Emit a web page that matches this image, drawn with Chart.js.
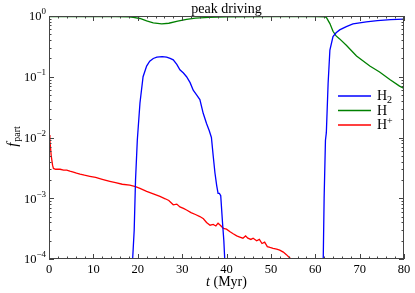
<!DOCTYPE html>
<html>
<head>
<meta charset="utf-8">
<script src="https://cdn.jsdelivr.net/npm/chart.js@4/dist/chart.umd.min.js"></script>
<style>
  html, body { margin: 0; padding: 0; background: #fff; }
  #wrap { width: 415px; height: 293px; }
</style>
</head>
<body>
<div id="wrap"><canvas id="fpart" width="415" height="293"></canvas></div>
<script>
// time axis (Myr) and fractions
const tH2 = [18.3, 18.85, 19.2, 19.5, 19.9, 20.5, 21.2, 22.0, 22.7, 23.5, 24.3, 25.5, 26.5, 27.3, 28.0, 28.8,
    29.5, 30.3, 31.0, 31.8, 32.5, 33.3, 34.0, 34.75, 35.5, 36.1, 36.6, 37.0, 37.4, 37.8, 38.1, 38.4, 38.7,
    39.1, 39.4, 39.6, 39.8,
    50,
    61.5, 61.8, 62.0, 62.3, 62.5, 62.9, 63.3, 64.0, 64.7, 65.5, 67.0, 68.5, 70.0, 71.5, 74.0, 77.0, 80.0];
const fH2 = [1e-5, 1e-4, 3e-4, 2e-3, 9e-3, 0.037, 0.1, 0.15, 0.18, 0.2, 0.21, 0.215, 0.21, 0.2, 0.19, 0.16,
    0.13, 0.115, 0.1, 0.08, 0.06, 0.05, 0.042, 0.025, 0.017, 0.013, 0.01, 0.005, 0.0026, 0.0016, 0.0012, 0.0012, 0.0011,
    0.0004, 0.0002, 1e-4, 1e-5,
    null,
    1e-5, 1e-4, 0.001, 0.009, 0.012, 0.078, 0.275, 0.46, 0.53, 0.59, 0.67, 0.74, 0.77, 0.8, 0.84, 0.87, 0.89];

const tH = [0, 5, 10, 15, 18, 19, 20.5, 22, 23.5, 25.4, 27, 29, 31, 33, 36, 40, 50, 60, 62, 62.5,
    63.3, 64, 64.7, 65.5, 67, 69.3, 72.3, 74.5, 76.8, 79, 80];
const fH = [0.975, 0.975, 0.975, 0.975, 0.97, 0.95, 0.91, 0.83, 0.77, 0.74, 0.76, 0.82, 0.88, 0.92, 0.95, 0.97, 0.975, 0.975, 0.97, 0.95,
    0.75, 0.56, 0.47, 0.42, 0.33, 0.22, 0.15, 0.12, 0.09, 0.07, 0.064];

const tHp = [0, 0.2, 0.5, 0.8, 1.0, 1.5, 2.5, 3.3, 4.0, 4.7, 5.5, 6.2, 7.0, 8.0, 9.2, 10.5, 12.0, 13.7, 15.0, 16.5,
    18.2, 19.5, 20.5, 22.0, 23.5, 25.0, 26.2, 27.0, 28.0, 28.8, 29.5, 30.3, 31.0, 32.0, 33.0, 34.0, 34.8, 35.5,
    36.3, 37.0, 37.6, 38.1, 38.6, 39.3, 40.0, 40.8, 41.5, 42.3, 43.0, 43.7, 44.3, 44.8, 45.5, 46.0, 46.8, 47.4,
    48.0, 48.6, 49.2, 49.8, 50.5, 51.3, 52.0, 52.8, 53.5, 54.2, 54.8, 55.3];
const fHp = [0.011, 0.009, 0.005, 0.0035, 0.0031, 0.0030, 0.0030, 0.0029, 0.0029, 0.0028, 0.0027, 0.0026, 0.0025, 0.0024, 0.0023, 0.0022, 0.00205, 0.0019, 0.0018, 0.0017,
    0.00165, 0.00155, 0.00145, 0.0013, 0.00118, 0.00107, 0.00098, 0.00092, 0.00078, 0.0008, 0.00072, 0.00068, 0.00064, 0.00058, 0.00054, 0.0005, 0.00046, 0.0004,
    0.00036, 0.00037, 0.00035, 0.00039, 0.00036, 0.00032, 0.00031, 0.00028, 0.00026, 0.00024, 0.00023, 0.00022, 0.00024, 0.00022, 0.00021, 0.00022, 0.0002, 0.00021,
    0.00018, 0.00019, 0.00016, 0.000155, 0.00015, 0.000145, 0.00014, 0.00013, 0.000118, 0.000105, 0.000098, 0.00009];

const xTicks = [0, 10, 20, 30, 40, 50, 60, 70, 80];
const yExponents = [0, -1, -2, -3, -4];

const SERIF = '"Liberation Serif", "DejaVu Serif", serif';
const FRAME = "#444";

function toPoints(ts, vs) {
    return ts.map((t, i) => ({ x: t, y: vs[i] }));
}

// frame, inward ticks, y labels, legend, titles
const decorPlugin = {
    id: "decor",
    afterDraw(chart) {
        const ctx = chart.ctx;
        const a = chart.chartArea;
        const xs = chart.scales.x;
        const ys = chart.scales.y;
        ctx.save();
        ctx.strokeStyle = FRAME;
        ctx.lineWidth = 1;
        ctx.strokeRect(a.left + 0.5, a.top + 0.5, a.right - a.left - 1, a.bottom - a.top - 1);

        ctx.beginPath();
        for (let v = 0; v <= 80; v += 2) {
            const px = Math.round(xs.getPixelForValue(v)) + 0.5;
            const len = v % 10 === 0 ? 5 : 2.5;
            ctx.moveTo(px, a.bottom); ctx.lineTo(px, a.bottom - len);
            ctx.moveTo(px, a.top); ctx.lineTo(px, a.top + len);
        }
        for (let e = -4; e <= 0; e++) {
            for (let k = 1; k <= 9; k++) {
                const v = k * Math.pow(10, e);
                if (v > 1) break;
                const py = Math.round(ys.getPixelForValue(v)) + 0.5;
                const len = k === 1 ? 5 : 2.5;
                ctx.moveTo(a.left, py); ctx.lineTo(a.left + len, py);
                ctx.moveTo(a.right, py); ctx.lineTo(a.right - len, py);
            }
        }
        ctx.stroke();

        // y tick labels 10^e
        ctx.fillStyle = "#000";
        ctx.textBaseline = "middle";
        yExponents.forEach(e => {
            const py = ys.getPixelForValue(Math.pow(10, e));
            const exp = e === 0 ? "0" : "\u2212" + (-e);
            ctx.font = "9px " + SERIF;
            const ew = ctx.measureText(exp).width;
            ctx.font = "12.5px " + SERIF;
            const bw = ctx.measureText("10").width;
            const right = a.left - 3;
            ctx.textAlign = "left";
            ctx.fillText("10", right - ew - bw, py + 1);
            ctx.font = "9px " + SERIF;
            ctx.fillText(exp, right - ew, py - 4);
        });

        // legend
        const legend = [["#0000ff", "H", "2", "sub"], ["#008000", "H", "", ""], ["#ff0000", "H", "+", "sup"]];
        const legY = [96, 110.5, 125];
        legend.forEach((it, i) => {
            ctx.strokeStyle = it[0];
            ctx.lineWidth = 1.3;
            ctx.beginPath();
            ctx.moveTo(338, legY[i]); ctx.lineTo(371, legY[i]);
            ctx.stroke();
            ctx.fillStyle = "#000";
            ctx.textAlign = "left";
            ctx.font = "14px " + SERIF;
            ctx.fillText(it[1], 377, legY[i] + 0.5);
            const w = ctx.measureText(it[1]).width;
            if (it[2]) {
                ctx.font = "10px " + SERIF;
                ctx.fillText(it[2], 377 + w, legY[i] + (it[3] === "sub" ? 4 : -4));
            }
        });

        // title
        ctx.textAlign = "center";
        ctx.font = "14px " + SERIF;
        ctx.fillText("peak driving", (a.left + a.right) / 2, 9);

        // x title: t (Myr)
        ctx.font = "italic 14px " + SERIF;
        const tw = ctx.measureText("t").width;
        ctx.font = "14px " + SERIF;
        const mw = ctx.measureText(" (Myr)").width;
        const cx = (a.left + a.right) / 2;
        ctx.textAlign = "left";
        ctx.font = "italic 14px " + SERIF;
        ctx.fillText("t", cx - (tw + mw) / 2, 282);
        ctx.font = "14px " + SERIF;
        ctx.fillText(" (Myr)", cx - (tw + mw) / 2 + tw, 282);

        // y title: f_part
        ctx.translate(13, 137);
        ctx.rotate(-Math.PI / 2);
        ctx.font = "italic 15px " + SERIF;
        const fw = ctx.measureText("f").width;
        ctx.font = "10px " + SERIF;
        const pw = ctx.measureText("part").width;
        ctx.textAlign = "left";
        ctx.font = "italic 15px " + SERIF;
        ctx.fillText("f", -(fw + pw) / 2, 0);
        ctx.font = "10px " + SERIF;
        ctx.fillText("part", -(fw + pw) / 2 + fw + 1, 4);
        ctx.restore();
    }
};

const lineStyle = { borderWidth: 1.3, pointRadius: 0, fill: false, tension: 0, spanGaps: false };

new Chart(document.getElementById("fpart"), {
    type: "line",
    data: {
        datasets: [
            { label: "H2", data: toPoints(tH2, fH2), borderColor: "#0000ff", ...lineStyle },
            { label: "H", data: toPoints(tH, fH), borderColor: "#008000", ...lineStyle },
            { label: "H+", data: toPoints(tHp, fHp), borderColor: "#ff0000", ...lineStyle }
        ]
    },
    options: {
        responsive: false,
        animation: false,
        events: [],
        layout: { padding: { top: 16, right: 11, left: 0, bottom: 0 } },
        plugins: { legend: { display: false }, tooltip: { enabled: false }, title: { display: false } },
        scales: {
            x: {
                type: "linear",
                min: 0,
                max: 80,
                grid: { display: false, drawTicks: false },
                border: { display: false },
                afterBuildTicks: s => { s.ticks = xTicks.map(v => ({ value: v })); },
                afterFit: s => { s.height = 34; },
                ticks: {
                    color: "#000",
                    padding: 3,
                    maxRotation: 0,
                    autoSkip: false,
                    font: { family: SERIF, size: 12.5 }
                }
            },
            y: {
                type: "logarithmic",
                min: 1e-4,
                max: 1,
                grid: { display: false, drawTicks: false },
                border: { display: false },
                afterFit: s => { s.width = 49; },
                ticks: { display: false }
            }
        }
    },
    plugins: [decorPlugin]
});
</script>
</body>
</html>
